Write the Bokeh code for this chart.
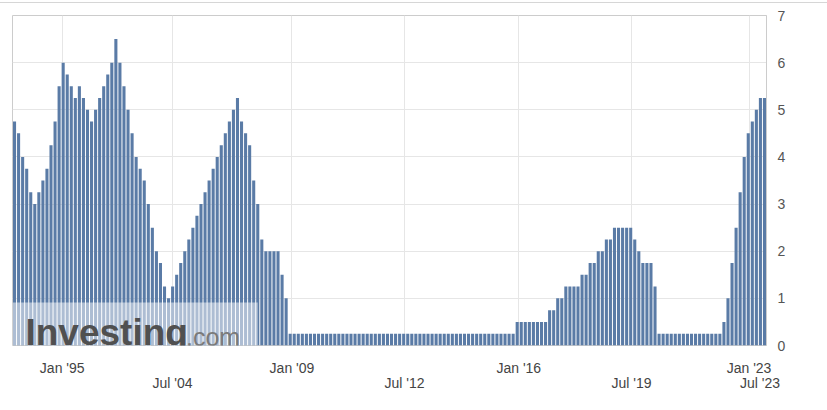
from bokeh.plotting import figure
from bokeh.models import FixedTicker, LinearAxis, Range1d, BoxAnnotation, Label, ColumnDataSource
from bokeh.embed import file_html
from bokeh.resources import INLINE

# Fed interest rate decisions (%), one bar per event, oldest first
rates_1991_2008 = [
    4.75, 4.5, 4.0, 3.75, 3.25, 3.0, 3.25, 3.5, 3.75, 4.25,
    4.75, 5.5, 6.0, 5.75, 5.5, 5.25, 5.5, 5.25, 5.0, 4.75,
    5.0, 5.25, 5.5, 5.75, 6.0, 6.5, 6.0, 5.5, 5.0, 4.5,
    4.0, 3.75, 3.5, 3.0, 2.5, 2.0, 1.75, 1.25, 1.0, 1.25,
    1.5, 1.75, 2.0, 2.25, 2.5, 2.75, 3.0, 3.25, 3.5, 3.75,
    4.0, 4.25, 4.5, 4.75, 5.0, 5.25, 4.75, 4.5, 4.25, 3.5,
    3.0, 2.25, 2.0, 2.0, 2.0, 2.0, 1.5, 1.0,
]
rates_2008_2015 = [
    0.25, 0.25, 0.25, 0.25, 0.25, 0.25, 0.25, 0.25, 0.25, 0.25,
    0.25, 0.25, 0.25, 0.25, 0.25, 0.25, 0.25, 0.25, 0.25, 0.25,
    0.25, 0.25, 0.25, 0.25, 0.25, 0.25, 0.25, 0.25, 0.25, 0.25,
    0.25, 0.25, 0.25, 0.25, 0.25, 0.25, 0.25, 0.25, 0.25, 0.25,
    0.25, 0.25, 0.25, 0.25, 0.25, 0.25, 0.25, 0.25, 0.25, 0.25,
    0.25, 0.25, 0.25, 0.25, 0.25, 0.25,
]
rates_2015_2020 = [
    0.5, 0.5, 0.5, 0.5, 0.5, 0.5, 0.5, 0.5, 0.75, 0.75,
    1.0, 1.0, 1.25, 1.25, 1.25, 1.25, 1.5, 1.5, 1.75, 1.75,
    2.0, 2.0, 2.25, 2.25, 2.5, 2.5, 2.5, 2.5, 2.5, 2.25,
    2.0, 1.75, 1.75, 1.75, 1.25,
]
rates_2020_2023 = [
    0.25, 0.25, 0.25, 0.25, 0.25, 0.25, 0.25, 0.25, 0.25, 0.25,
    0.25, 0.25, 0.25, 0.25, 0.25, 0.25,
    0.5, 1.0, 1.75, 2.5, 3.25, 4.0, 4.5, 4.75, 5.0, 5.25, 5.25,
]
rates = rates_1991_2008 + rates_2008_2015 + rates_2015_2020 + rates_2020_2023

# x-axis tick labels (two staggered rows) at event-index positions
row1_labels = ["Jan '95", "Jan '09", "Jan '16", "Jan '23"]
row1_pos = [11.76, 68.44, 124.4, 181.2]
row2_labels = ["Jul '04", "Jul '12", "Jul '19", "Jul '23"]
row2_pos = [38.97, 96.2, 152.2, 183.9]
y_ticks = [0, 1, 2, 3, 4, 5, 6, 7]

n = len(rates)
src = ColumnDataSource(dict(x=list(range(n)), top=rates))

FONT = "Liberation Sans"
BAR = "#5a7ba6"
GRID = "#e6e6e6"

p = figure(width=827, height=407, output_backend="svg", toolbar_location=None,
           x_range=Range1d(-0.5, n - 0.5), y_range=Range1d(0, 7),
           y_axis_location="right", x_axis_location="below",
           min_border_left=12, min_border_right=61, min_border_top=12,
           min_border_bottom=65)
p.styles = {"border-top": "1px solid #d6d6d6", "margin-top": "2px"}
p.outline_line_color = "#cccccc"
p.background_fill_color = "white"
p.border_fill_color = "white"

p.vbar(x="x", top="top", width=0.76, bottom=0, source=src,
       fill_color=BAR, line_color=None)

# watermark overlay
p.add_layout(BoxAnnotation(left=-0.5, right=60.0, bottom=0, top=0.91,
                           fill_color="white", fill_alpha=0.5, line_color=None))
p.add_layout(Label(x=2.7, y=0.27, text="Investing", text_font=FONT,
                   text_font_style="bold", text_font_size="37px",
                   text_color="#505050", text_baseline="middle"))
p.add_layout(Label(x=42.3, y=0.18, text=".com", text_font=FONT,
                   text_font_size="25px", text_color="#7a7a7a",
                   text_baseline="middle"))

# y axis (right)
ya = p.yaxis[0]
ya.ticker = FixedTicker(ticks=y_ticks)
ya.major_tick_line_color = None
ya.minor_tick_line_color = None
ya.axis_line_color = "#cccccc"
ya.major_label_standoff = 5
ya.major_label_text_font = FONT
ya.major_label_text_font_size = "14px"
ya.major_label_text_color = "#555555"

# x axes (two rows)
def style_x(ax, standoff):
    ax.major_tick_line_color = None
    ax.minor_tick_line_color = None
    ax.axis_line_color = None
    ax.major_label_standoff = standoff
    ax.major_label_text_font = FONT
    ax.major_label_text_font_size = "14px"
    ax.major_label_text_color = "#444444"

xa = p.xaxis[0]
xa.ticker = FixedTicker(ticks=row1_pos)
xa.major_label_overrides = {pos: lab for pos, lab in zip(row1_pos, row1_labels)}
style_x(xa, 8)

xb = LinearAxis(ticker=FixedTicker(ticks=row2_pos),
                major_label_overrides={pos: lab for pos, lab in zip(row2_pos, row2_labels)})
style_x(xb, -10)
p.add_layout(xb, "below")

p.xgrid.ticker = FixedTicker(ticks=row1_pos + row2_pos[:-1])
p.xgrid.grid_line_color = GRID
p.ygrid.ticker = FixedTicker(ticks=y_ticks)
p.ygrid.grid_line_color = GRID

with open("out.html", "w") as f:
    f.write(file_html(p, INLINE))
